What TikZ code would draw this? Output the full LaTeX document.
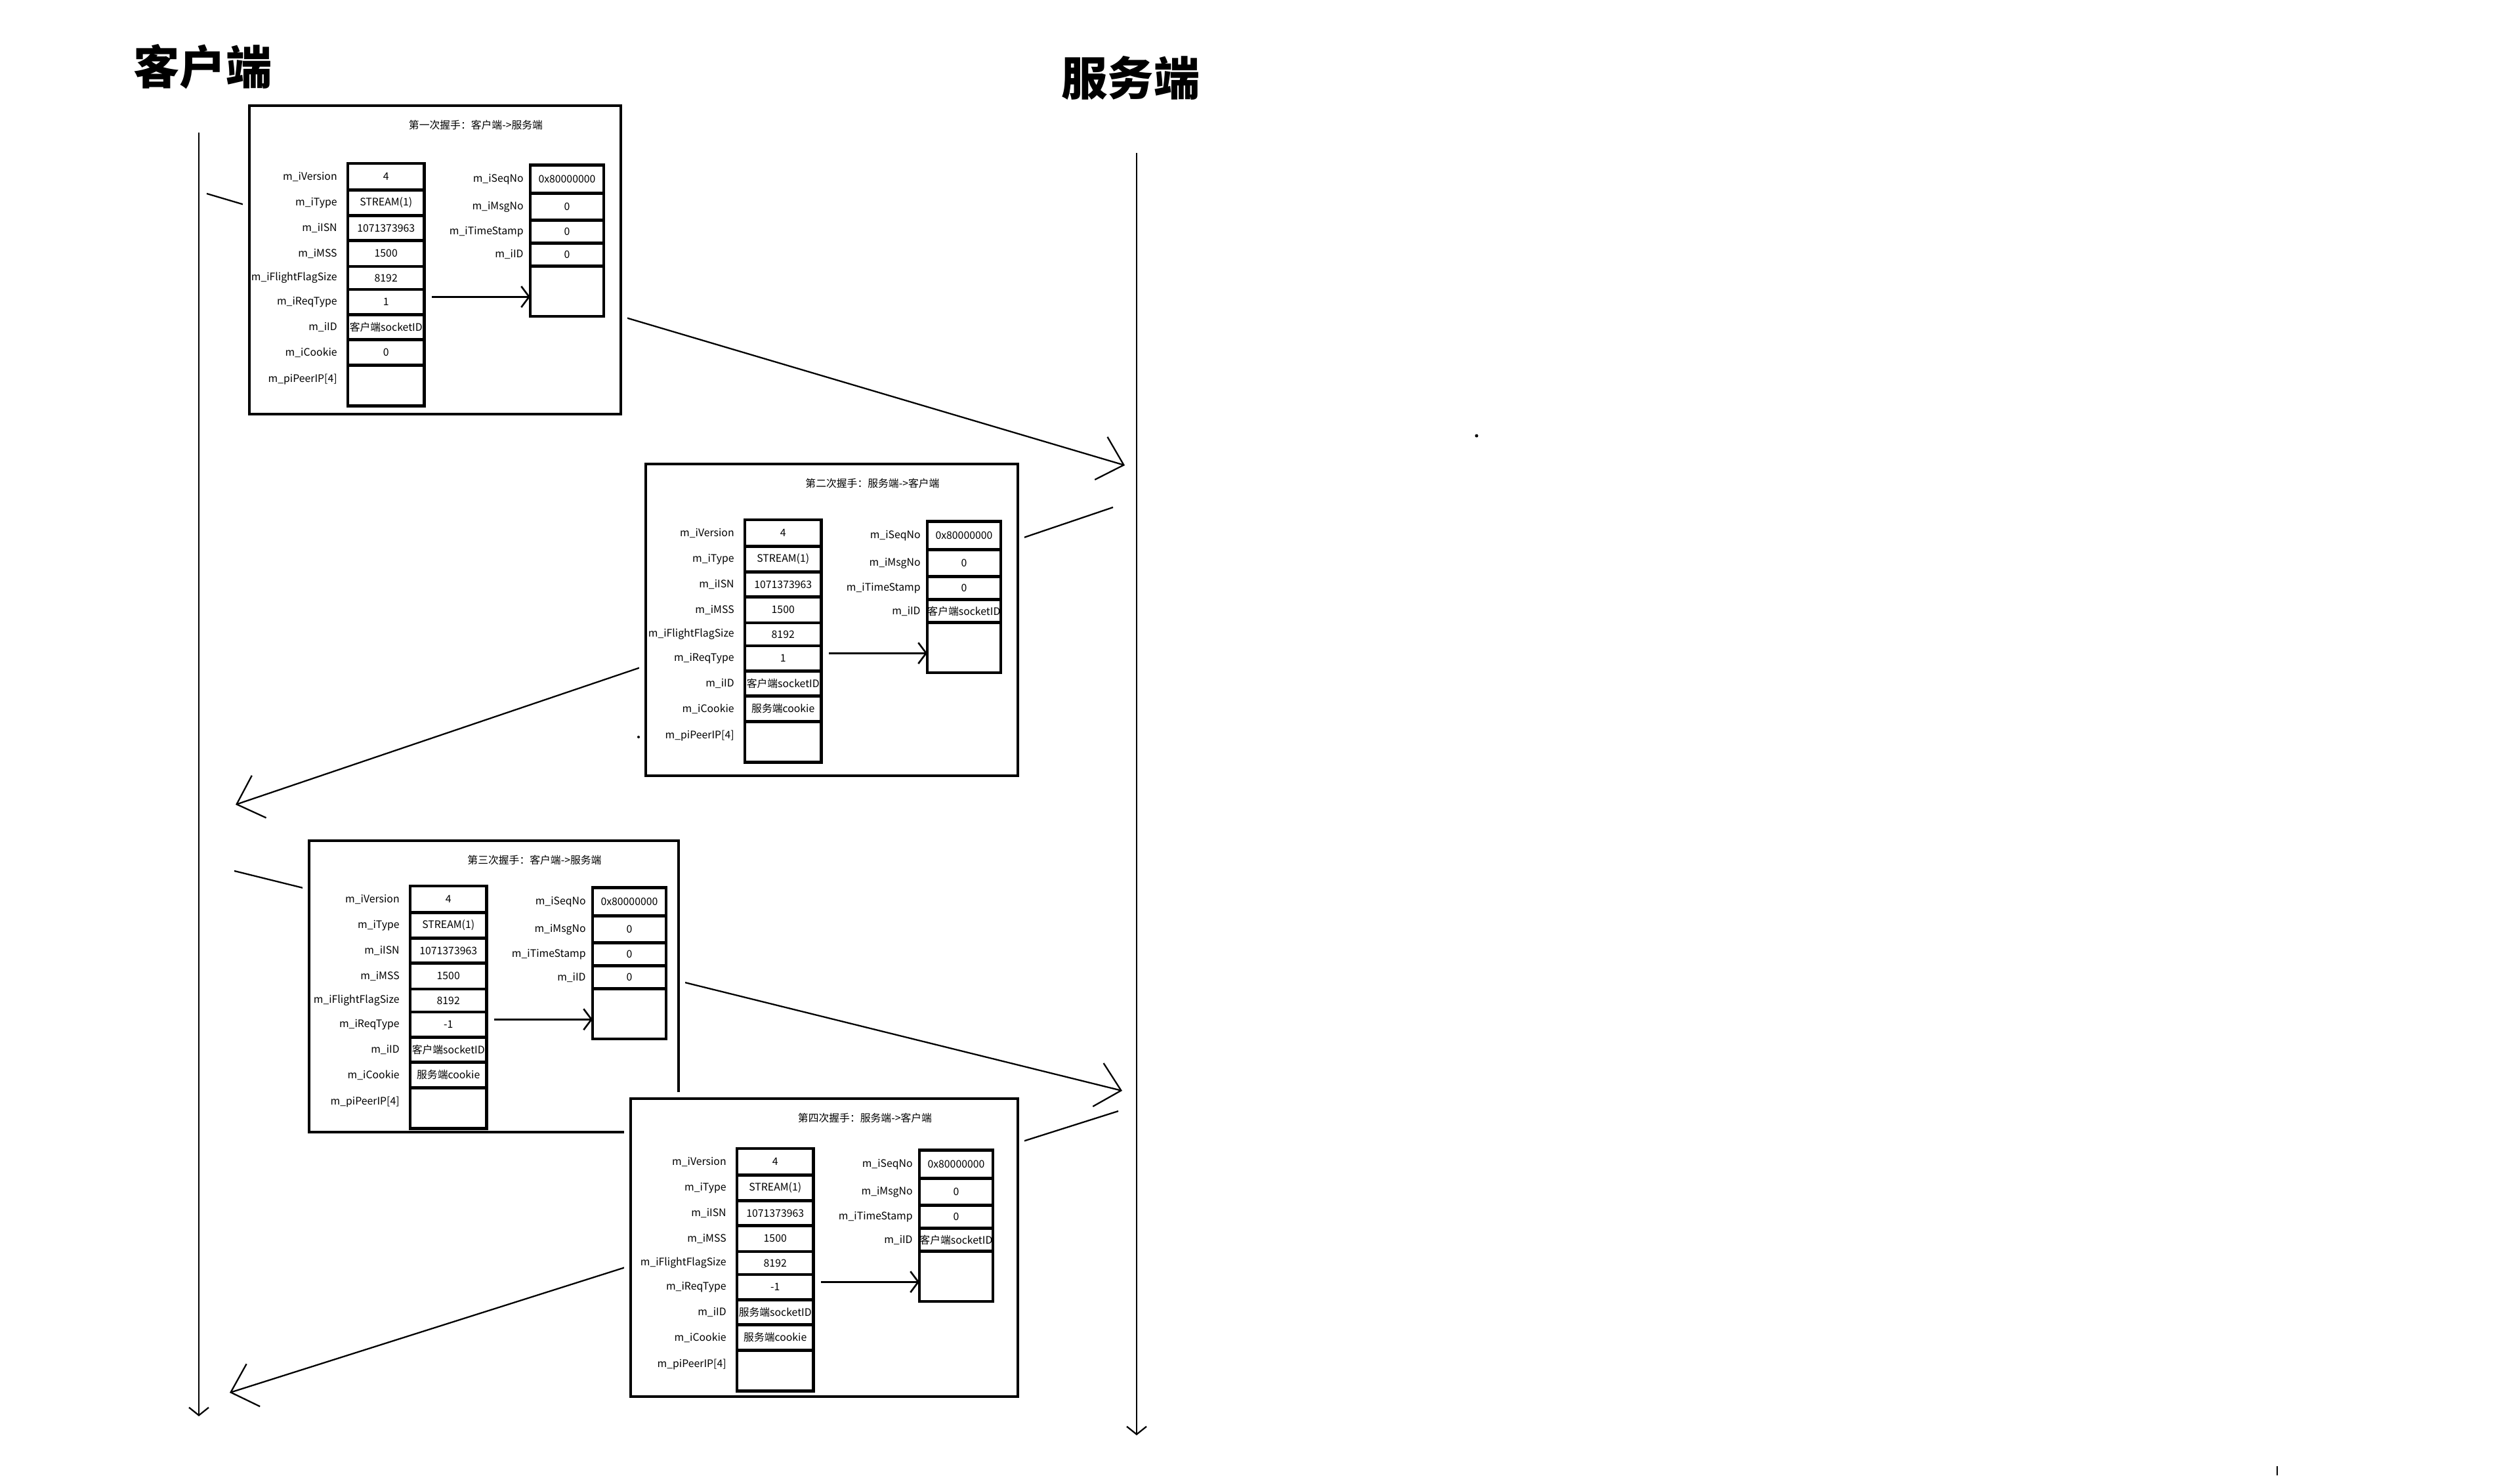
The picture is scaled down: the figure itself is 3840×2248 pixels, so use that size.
\documentclass[tikz,border=0pt]{standalone}
\usepackage{fontspec}
\setmainfont{Noto Sans CJK SC}
\usetikzlibrary{arrows.meta, positioning, fit}

\tikzset{txt/.style={font=\fontsize{9}{11}\selectfont}}

\newcommand{\shakebox}[9]{%
  \node[hsframe, fit={#2 #3}] (#1) {};
  \node[txt, inner sep=0pt] (#1t) at ([xshift=1.24cm, yshift=-0.62cm]#1.north) {#5};
  \node[fieldcell, minimum height=0.81cm, anchor=north west] (#1ver) at #4 {4};
  \node[fieldcell, minimum height=0.78cm, below=0pt of #1ver] (#1typ) {STREAM(1)};
  \node[fieldcell, minimum height=0.76cm, below=0pt of #1typ] (#1isn) {1071373963};
  \node[fieldcell, minimum height=0.79cm, below=0pt of #1isn] (#1mss) {1500};
  \node[fieldcell, minimum height=0.70cm, below=0pt of #1mss] (#1flg) {8192};
  \node[fieldcell, minimum height=0.77cm, below=0pt of #1flg] (#1req) {#6};
  \node[fieldcell, minimum height=0.76cm, below=0pt of #1req] (#1id) {#7};
  \node[fieldcell, minimum height=0.78cm, below=0pt of #1id] (#1ck) {#8};
  \node[fieldcell, minimum height=1.24cm, below=0pt of #1ck] (#1ip) {};
  \node[fieldcell, rcell, minimum height=0.86cm, anchor=north west] (#1seq) at ([xshift=5.56cm, yshift=-0.05cm]#1ver.north west) {0x80000000};
  \node[fieldcell, rcell, minimum height=0.82cm, below=0pt of #1seq] (#1msg) {0};
  \node[fieldcell, rcell, minimum height=0.70cm, below=0pt of #1msg] (#1ts) {0};
  \node[fieldcell, rcell, minimum height=0.70cm, below=0pt of #1ts] (#1rid) {#9};
  \node[fieldcell, rcell, minimum height=1.53cm, below=0pt of #1rid] (#1rx) {};
  \foreach \f/\t in {ver/m\_iVersion, typ/m\_iType, isn/m\_iISN, mss/m\_iMSS, flg/m\_iFlightFlagSize, req/m\_iReqType, id/m\_iID, ck/m\_iCookie}
    \node[fieldlbl] (#1l\f) at ([xshift=-0.32cm]#1\f.west) {\t};
  \node[fieldlbl] (#1lip) at ([xshift=-0.32cm, yshift=-0.44cm]#1ip.north west) {m\_piPeerIP[4]};
  \foreach \f/\t in {seq/m\_iSeqNo, msg/m\_iMsgNo, ts/m\_iTimeStamp, rid/m\_iID}
    \node[fieldlbl] (#1l\f) at ([xshift=-0.2cm]#1\f.west) {\t};
  \draw[fieldptr] ([xshift=0.24cm, yshift=0.16cm]#1req.east) -- ([yshift=0.16cm]#1req.east -| #1rx.west);
}

\begin{document}
\begin{tikzpicture}[
    x=0.02cm, y=-0.02cm,
    sidehead/.style={font=\fontsize{40}{48}\selectfont\bfseries, inner sep=0pt},
    lifeline/.style={line width=1.3pt, -{Straight Barb[length=0.24cm, width=0.6cm]}},
    msgarrow/.style={line width=1.3pt, -{Straight Barb[length=0.72cm, width=1.36cm]}},
    hsframe/.style={draw, line width=1.9pt, fill=white, inner sep=0pt, preaction={draw=white, line width=0.4cm}},
    fieldcell/.style={draw, line width=2.5pt, minimum width=2.33cm, inner sep=0pt, outer sep=0pt, txt},
    rcell/.style={minimum width=2.24cm},
    fieldlbl/.style={txt, anchor=east, inner sep=0pt},
    fieldptr/.style={line width=1.5pt, -{Straight Barb[length=0.24cm, width=0.64cm]}}
]
\useasboundingbox (0,0) rectangle (3840,2248);

\node[sidehead] (client) at (309,102) {客户端};
\node[sidehead] (server) at (1723,119) {服务端};

\coordinate (ctop) at (303,202);
\coordinate (cbot) at (303,2158);
\coordinate (stop) at (1732,233);
\coordinate (sbot) at (1732,2187);
\draw[lifeline] (ctop) -- (cbot);
\draw[lifeline] (stop) -- (sbot);

\coordinate (m1a) at (315,295);
\coordinate (m1b) at (1714,709);
\coordinate (m2a) at (1696,773);
\coordinate (m2b) at (359,1226);
\coordinate (m3a) at (357,1327);
\coordinate (m3b) at (1710,1662);
\coordinate (m4a) at (1704,1693);
\coordinate (m4b) at (350,2122);
\draw[msgarrow] (m1a) -- (m1b);
\draw[msgarrow] (m2a) -- (m2b);
\draw[msgarrow] (m3a) -- (m3b);
\draw[msgarrow] (m4a) -- (m4b);

\shakebox{hsa}{(380,161)}{(946,631)}{(530,249)}{第一次握手：客户端->服务端}{1}{客户端socketID}{0}{0}
\shakebox{hsb}{(984,707)}{(1551,1182)}{(1135,792)}{第二次握手：服务端->客户端}{1}{客户端socketID}{服务端cookie}{客户端socketID}
\shakebox{hsc}{(471,1281)}{(1034,1725)}{(625,1350)}{第三次握手：客户端->服务端}{-1}{客户端socketID}{服务端cookie}{0}
\shakebox{hsd}{(961,1674)}{(1551,2128)}{(1123,1750)}{第四次握手：服务端->客户端}{-1}{服务端socketID}{服务端cookie}{客户端socketID}

\fill (2250,664) circle[radius=0.05cm];
\fill (973,1123) circle[radius=0.04cm];
\draw[line width=1.3pt] (3470,2234) -- (3470,2248);
\end{tikzpicture}
\end{document}
